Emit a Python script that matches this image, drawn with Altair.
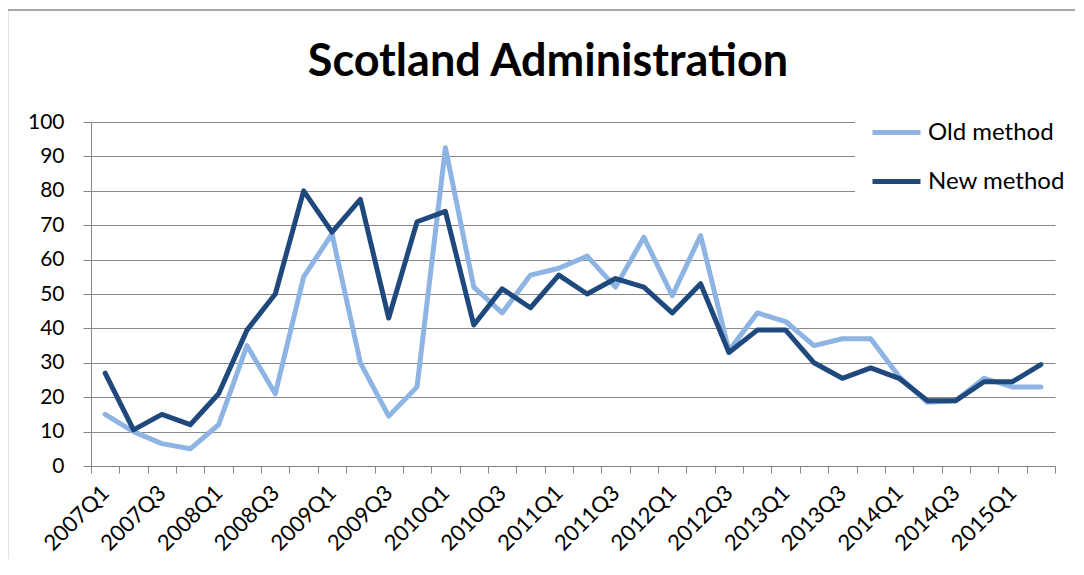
import altair as alt
import pandas as pd

quarters = [
    "2007Q1", "2007Q2", "2007Q3", "2007Q4",
    "2008Q1", "2008Q2", "2008Q3", "2008Q4",
    "2009Q1", "2009Q2", "2009Q3", "2009Q4",
    "2010Q1", "2010Q2", "2010Q3", "2010Q4",
    "2011Q1", "2011Q2", "2011Q3", "2011Q4",
    "2012Q1", "2012Q2", "2012Q3", "2012Q4",
    "2013Q1", "2013Q2", "2013Q3", "2013Q4",
    "2014Q1", "2014Q2", "2014Q3", "2014Q4",
    "2015Q1", "2015Q2",
]
shown_labels = quarters[::2]

old_method = [15, 10, 6.5, 5, 12, 35, 21, 55, 67.5, 30, 14.5, 23, 92.5, 52, 44.5,
              55.5, 57.5, 61, 52, 66.5, 49.5, 67, 33.5, 44.5, 42, 35, 37, 37, 26,
              18.5, 19, 25.5, 23, 23]
new_method = [27, 10.5, 15, 12, 21, 39.5, 50, 80, 68, 77.5, 43, 71, 74, 41, 51.5,
              46, 55.5, 50, 54.5, 52, 44.5, 53, 33, 39.5, 39.5, 30, 25.5, 28.5,
              25.5, 19, 19, 24.5, 24.5, 29.5]

series_names = ["Old method", "New method"]
series_colors = ["#8DB4E2", "#1F497D"]
y_ticks = [0, 10, 20, 30, 40, 50, 60, 70, 80, 90, 100]

rows = []
for name, vals in zip(series_names, [old_method, new_method]):
    for q, v in zip(quarters, vals):
        rows.append({"quarter": q, "series": name, "value": v})
df = pd.DataFrame(rows)

FONT = "Lato"
GRID = "#878787"
FRAME = "#8A8A8A"

label_list = "[" + ",".join("'%s'" % s for s in shown_labels) + "]"
label_expr = "indexof(%s, datum.value) >= 0 ? datum.value : ''" % label_list

one_row = alt.InlineData(values=[{"frame": 1}])

# chart-area border (top and left edges are the visible ones in the reference)
frame_top = alt.Chart(one_row).mark_rule(stroke=FRAME, strokeWidth=1.5, clip=False).encode(
    x=alt.value(-83.5), x2=alt.value(984), y=alt.value(-112)
)
frame_left = alt.Chart(one_row).mark_rule(stroke=FRAME, strokeWidth=1.5, clip=False).encode(
    x=alt.value(-83.5), y=alt.value(-112), y2=alt.value(437)
)

lines = alt.Chart(df).mark_line(strokeWidth=5, strokeJoin="round", strokeCap="round").encode(
    x=alt.X(
        "quarter:N",
        sort=quarters,
        scale=alt.Scale(type="band", paddingInner=0, paddingOuter=0),
        axis=alt.Axis(
            title=None,
            tickBand="extent",
            labelExpr=label_expr,
            labelAngle=-45,
            labelAlign="right",
            labelBaseline="middle",
            labelOverlap=False,
            labelFont=FONT,
            labelFontSize=22,
            labelColor="black",
            labelPadding=16,
            tickSize=7,
            tickColor=GRID,
            domainColor=GRID,
            grid=False,
        ),
    ),
    y=alt.Y(
        "value:Q",
        scale=alt.Scale(domain=[0, 100], nice=False),
        axis=alt.Axis(
            title=None,
            values=y_ticks,
            grid=True,
            gridColor=GRID,
            gridOpacity=1,
            tickSize=8,
            tickColor=GRID,
            domainColor=GRID,
            labelFont=FONT,
            labelFontSize=21,
            labelColor="black",
            labelPadding=19,
        ),
    ),
    color=alt.Color(
        "series:N",
        sort=series_names,
        scale=alt.Scale(domain=series_names, range=series_colors),
        legend=alt.Legend(
            title=None,
            orient="none",
            legendX=764,
            legendY=-31,
            symbolType="stroke",
            symbolSize=2304,
            symbolStrokeWidth=5,
            labelFont=FONT,
            labelFontSize=24,
            labelColor="black",
            labelOffset=5,
            fillColor="white",
            padding=15,
            rowPadding=10,
        ),
    ),
)

chart = alt.layer(frame_top, frame_left, lines).properties(
    width=964,
    height=344,
    padding={"left": 83, "top": 114, "right": 21, "bottom": 94},
    autosize=alt.AutoSizeParams(type="none"),
    title=alt.TitleParams(
        "Scotland Administration",
        font=FONT,
        fontSize=45,
        fontWeight="bold",
        color="black",
        anchor="middle",
        baseline="alphabetic",
        dx=-25,
        offset=-112,
    ),
).configure(background="white").configure_view(stroke=None)

chart.save("out.html", embed_options={"renderer": "svg", "actions": False})
